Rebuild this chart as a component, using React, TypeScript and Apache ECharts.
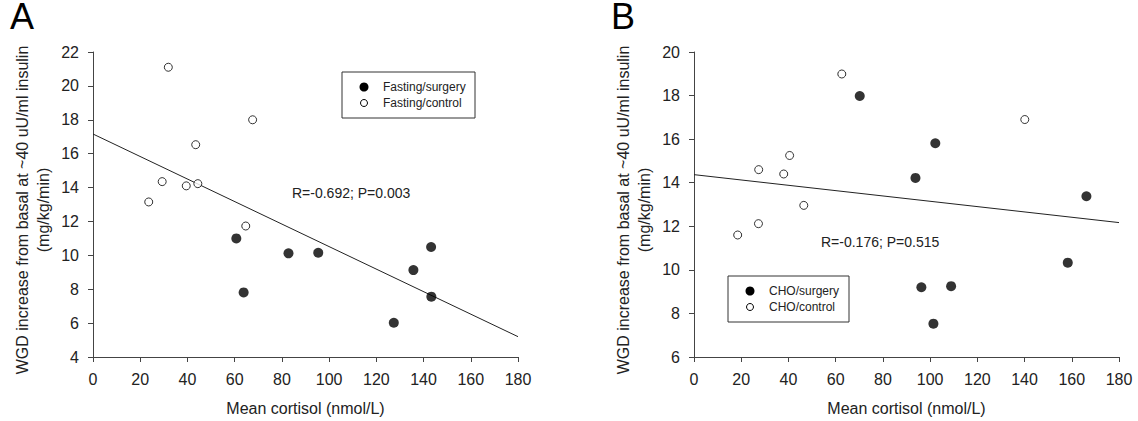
import React, { useEffect, useRef } from "react";
import * as echarts from "echarts";

// Panel A: fasting groups
const fastingSurgeryX = [60.7, 63.8, 82.8, 95.4, 127.4, 135.7, 143.2, 143.3];
const fastingSurgeryY = [11.0, 7.81, 10.12, 10.15, 6.02, 9.13, 10.49, 7.56];
const fastingControlX = [23.6, 29.3, 31.9, 39.5, 43.5, 44.4, 64.7, 67.6];
const fastingControlY = [13.15, 14.35, 21.1, 14.1, 16.53, 14.23, 11.73, 18.0];
const fastingFitX = [0, 180];
const fastingFitY = [17.16, 5.2];

// Panel B: carbohydrate groups
const choSurgeryX = [70.2, 93.8, 102.2, 96.3, 101.4, 108.9, 158.3, 166.2];
const choSurgeryY = [17.98, 14.22, 15.81, 9.2, 7.53, 9.25, 10.33, 13.38];
const choControlX = [18.5, 27.3, 27.4, 38.0, 40.5, 46.5, 62.6, 140.1];
const choControlY = [11.6, 12.12, 14.6, 14.4, 15.25, 12.96, 18.99, 16.9];
const choFitX = [0, 180];
const choFitY = [14.37, 12.17];

const panelLetters = ["A", "B"];
const legendA = ["Fasting/surgery", "Fasting/control"];
const legendB = ["CHO/surgery", "CHO/control"];
const statsA = "R=-0.692; P=0.003";
const statsB = "R=-0.176; P=0.515";
const xTitle = "Mean cortisol (nmol/L)";
const yTitle1 = "WGD increase from basal at ~40 uU/ml insulin";
const yTitle2 = "(mg/kg/min)";

const FONT = "'Liberation Sans', Arial, sans-serif";
const TEXT = "#222";
const AXIS = "#444";

const zip = (xs: number[], ys: number[]) => xs.map((x, i) => [x, ys[i]]);

function legendBox(x: number, y: number, w: number, h: number, labels: string[]) {
  const rowY = [y + h / 2 - 8, y + h / 2 + 8];
  return [
    {
      type: "rect",
      shape: { x, y, width: w, height: h },
      style: { fill: "#fff", stroke: "#333", lineWidth: 1 },
      z: 10,
    },
    {
      type: "circle",
      shape: { cx: x + 22, cy: rowY[0], r: 4.5 },
      style: { fill: "#000" },
      z: 11,
    },
    {
      type: "circle",
      shape: { cx: x + 22, cy: rowY[1], r: 3.5 },
      style: { fill: "#fff", stroke: "#000", lineWidth: 1 },
      z: 11,
    },
    ...labels.map((t, i) => ({
      type: "text",
      x: x + 41,
      y: rowY[i],
      style: { text: t, font: `12px ${FONT}`, fill: TEXT, verticalAlign: "middle", align: "left" },
      z: 11,
    })),
  ];
}

function yTitle(axisX: number) {
  return [
    {
      type: "text",
      x: axisX - 71,
      y: 210,
      rotation: Math.PI / 2,
      style: { text: yTitle1, font: `16px ${FONT}`, fill: TEXT, align: "center", verticalAlign: "middle" },
    },
    {
      type: "text",
      x: axisX - 50,
      y: 210,
      rotation: Math.PI / 2,
      style: { text: yTitle2, font: `16px ${FONT}`, fill: TEXT, align: "center", verticalAlign: "middle" },
    },
  ];
}

export default function App() {
  const ref = useRef<HTMLDivElement>(null);

  useEffect(() => {
    document.body.style.margin = "0";
    if (!ref.current) return;
    const chart = echarts.init(ref.current, undefined, { renderer: "svg" });

    const axisCommon = {
      axisLine: { show: true, lineStyle: { color: AXIS, width: 1 } },
      axisTick: { show: true, inside: false, length: 5, lineStyle: { color: AXIS } },
      splitLine: { show: false },
      axisLabel: { color: TEXT, fontSize: 16, fontFamily: FONT, margin: 14 },
    };

    const xAxisFor = (gridIndex: number) => ({
      ...axisCommon,
      type: "value",
      gridIndex,
      min: 0,
      max: 180,
      interval: 20,
      name: xTitle,
      nameLocation: "middle",
      nameGap: 43,
      nameTextStyle: { color: TEXT, fontSize: 16, fontFamily: FONT },
    });

    const scatter = (name: string, data: number[][], idx: number, filled: boolean) => ({
      name,
      type: "scatter",
      xAxisIndex: idx,
      yAxisIndex: idx,
      data,
      symbol: "circle",
      symbolSize: filled ? 10 : 8,
      itemStyle: filled
        ? { color: "#000" }
        : { color: "#fff", borderColor: "#000", borderWidth: 1 },
      z: 5,
    });

    const fitLine = (data: number[][], idx: number) => ({
      type: "line",
      xAxisIndex: idx,
      yAxisIndex: idx,
      data,
      symbol: "none",
      lineStyle: { color: "#222", width: 1 },
      z: 3,
    });

    chart.setOption({
      animation: false,
      backgroundColor: "#fff",
      textStyle: { fontFamily: FONT },
      grid: [
        { left: 93, top: 52, width: 425, height: 305, containLabel: false },
        { left: 694, top: 52, width: 425, height: 305, containLabel: false },
      ],
      xAxis: [xAxisFor(0), xAxisFor(1)],
      yAxis: [
        { ...axisCommon, type: "value", gridIndex: 0, min: 4, max: 22, interval: 2 },
        { ...axisCommon, type: "value", gridIndex: 1, min: 6, max: 20, interval: 2 },
      ],
      series: [
        fitLine(zip(fastingFitX, fastingFitY), 0),
        scatter(legendA[0], zip(fastingSurgeryX, fastingSurgeryY), 0, true),
        scatter(legendA[1], zip(fastingControlX, fastingControlY), 0, false),
        fitLine(zip(choFitX, choFitY), 1),
        scatter(legendB[0], zip(choSurgeryX, choSurgeryY), 1, true),
        scatter(legendB[1], zip(choControlX, choControlY), 1, false),
      ],
      graphic: [
        {
          type: "text",
          x: 10,
          y: 34,
          style: { text: panelLetters[0], font: `36px ${FONT}`, fill: "#000", verticalAlign: "bottom" },
        },
        {
          type: "text",
          x: 611,
          y: 34,
          style: { text: panelLetters[1], font: `36px ${FONT}`, fill: "#000", verticalAlign: "bottom" },
        },
        ...yTitle(93),
        ...yTitle(694),
        ...legendBox(342, 72, 133, 46, legendA),
        ...legendBox(728, 276, 121, 46, legendB),
        {
          type: "text",
          x: 292,
          y: 193,
          style: { text: statsA, font: `14px ${FONT}`, fill: TEXT, verticalAlign: "middle" },
        },
        {
          type: "text",
          x: 821,
          y: 242,
          style: { text: statsB, font: `14px ${FONT}`, fill: TEXT, verticalAlign: "middle" },
        },
      ],
    });

    return () => chart.dispose();
  }, []);

  return <div ref={ref} style={{ width: 1138, height: 421 }} />;
}
